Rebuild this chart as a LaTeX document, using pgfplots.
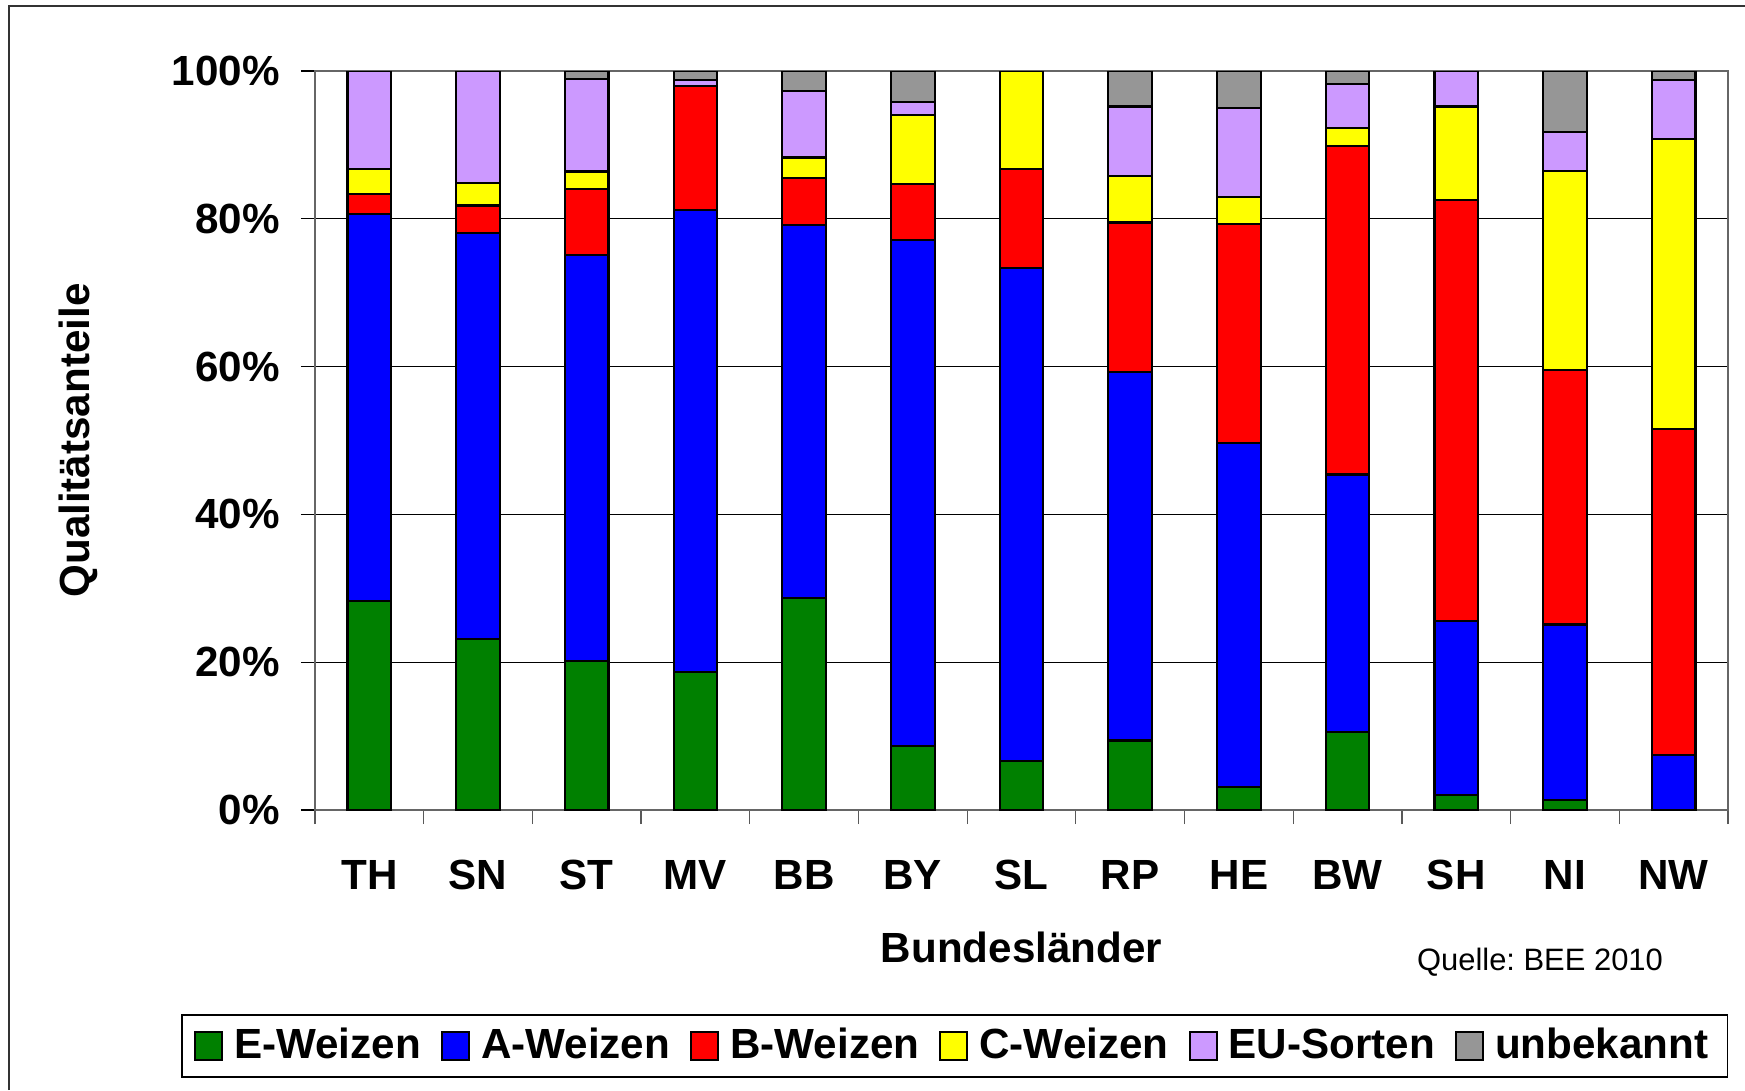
\documentclass[border=0pt]{standalone}
\usepackage{pgfplots}
\pgfplotsset{compat=1.18}
\usepackage{pgfplotstable}
\usepackage{fontspec}
\setmainfont{Liberation Sans}
\frenchspacing
\definecolor{cE}{RGB}{0,128,0}
\definecolor{cA}{RGB}{0,0,255}
\definecolor{cB}{RGB}{255,0,0}
\definecolor{cC}{RGB}{255,255,0}
\definecolor{cEU}{RGB}{204,153,255}
\definecolor{cU}{RGB}{150,150,150}
\pgfplotstableread{
x E A B C EU U
0 28.3 52.3 2.8 3.4 13.2 0
1 23.2 54.9 3.7 3.1 15.1 0
2 20.2 54.9 8.9 2.4 12.5 1.1
3 18.7 62.5 16.8 0 0.8 1.2
4 28.7 50.5 6.3 2.8 9.0 2.7
5 8.7 68.4 7.6 9.3 1.8 4.2
6 6.6 66.8 13.3 13.3 0 0
7 9.4 49.9 20.2 6.3 9.4 4.8
8 3.1 46.6 29.6 3.7 12.0 5.0
9 10.6 34.8 44.4 2.5 6.0 1.7
10 2.0 23.6 57.0 12.6 4.8 0
11 1.3 23.8 34.5 26.9 5.2 8.3
12 0 7.4 44.1 39.3 8.0 1.2
}\datatable
\begin{document}
\begin{tikzpicture}
\path[use as bounding box] (0,0) rectangle (17.45,10.90);
\draw[line width=0.5pt, black!80] (0.09,0) -- (0.09,10.84) -- (17.45,10.84);
\begin{axis}[
  at={(3.15cm,2.80cm)}, anchor=south west,
  width=14.13cm, height=7.39cm, scale only axis,
  ybar stacked, bar width=0.436cm,
  xmin=-0.5, xmax=12.5, ymin=0, ymax=100,
  xtick={-0.5,0.5,...,12.5}, xticklabels={},
  extra x ticks={0,1,...,12},
  extra x tick labels={TH,SN,ST,MV,BB,BY,SL,RP,HE,BW,SH,NI,NW},
  extra x tick style={major tick length=0pt},
  ytick={0,20,...,100},
  yticklabels={0\%,20\%,40\%,60\%,80\%,100\%},
  ymajorgrids, grid style={black, line width=0.35pt},
  tick align=outside, major tick length=0.14cm, tick pos=left,
  xtick style={draw=gray!70!black, line width=0.35pt},
  ytick style={draw=black, line width=0.35pt},
  axis line style={gray!80!black, line width=0.5pt},
  tick label style={font=\bfseries\fontsize{12}{14}\selectfont},
  xticklabel style={yshift=-0.38cm},
  yticklabel style={xshift=-0.09cm},
  xlabel={Bundesländer},
  ylabel={Qualitätsanteile},
  label style={font=\bfseries\fontsize{12}{14}\selectfont},
  xlabel style={at={(axis description cs:0.5,-0.1854)}, anchor=center},
  ylabel style={at={(axis description cs:-0.1677,0.5)}, anchor=center},
  legend columns=6,
  legend style={at={(axis description cs:1,-0.3194)}, anchor=east,
    draw=black, line width=0.4pt, font=\bfseries\fontsize{12}{14}\selectfont,
    inner xsep=0.12cm, inner ysep=0.06cm,
    /tikz/every odd column/.append style={column sep=0.04cm},
    /tikz/every even column/.append style={column sep=0.13cm}},
  legend image code/.code={\draw[#1,draw=black,line width=0.6pt] (0cm,-0.14cm) rectangle (0.27cm,0.14cm);},
]
\addplot[fill=cE, draw=black, line width=0.6pt] table[x=x,y=E]{\datatable};
\addplot[fill=cA, draw=black, line width=0.6pt] table[x=x,y=A]{\datatable};
\addplot[fill=cB, draw=black, line width=0.6pt] table[x=x,y=B]{\datatable};
\addplot[fill=cC, draw=black, line width=0.6pt] table[x=x,y=C]{\datatable};
\addplot[fill=cEU, draw=black, line width=0.6pt] table[x=x,y=EU]{\datatable};
\addplot[fill=cU, draw=black, line width=0.6pt] table[x=x,y=U]{\datatable};
\legend{E-Weizen,A-Weizen,B-Weizen,C-Weizen,EU-Sorten,unbekannt}
\end{axis}
\node[font=\fontsize{8.8}{10}\selectfont, anchor=center] at (15.40,1.28) {Quelle: BEE 2010};
\end{tikzpicture}
\end{document}
